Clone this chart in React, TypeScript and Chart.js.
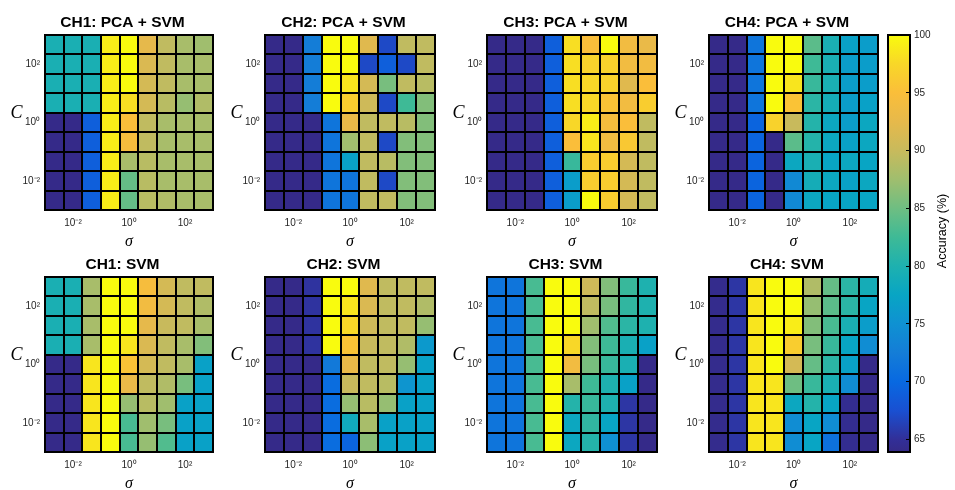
import React, { useEffect, useRef } from 'react';
import { Chart, registerables } from 'chart.js';

Chart.register(...registerables);
Chart.defaults.font.family = '"Liberation Sans", Arial, Helvetica, sans-serif';
Chart.defaults.color = '#262626';

// ---------------- data ----------------
const sigmaColumns = ['s1', 's2', 's3', 's4', 's5', 's6', 's7', 's8', 's9'];
const xTickText = ['', '10⁻²', '', '', '10⁰', '', '', '10²', ''];
const yTickValues = [1.5, 4.5, 7.5];
const yTickText = ['10⁻²', '10⁰', '10²'];
const rowBoundaries = [0, 1, 2, 3, 4, 5, 6, 7, 8, 9];
const colorbarTicks = [65, 70, 75, 80, 85, 90, 95, 100];
const ACC_MIN = 63.9;
const ACC_MAX = 100;

const titles = [
  'CH1: PCA + SVM', 'CH2: PCA + SVM', 'CH3: PCA + SVM', 'CH4: PCA + SVM',
  'CH1: SVM', 'CH2: SVM', 'CH3: SVM', 'CH4: SVM',
];

// rows listed from top (largest C) to bottom (smallest C)
const ch1PcaSvm = [
  [79.5, 79.5, 79.5, 99, 100, 92.5, 89.5, 88, 87.5],
  [79.5, 79.5, 79.5, 99, 100, 91.5, 89.5, 88, 88],
  [79.5, 79.5, 79.5, 99, 100, 91, 89.5, 88, 88],
  [79.5, 79.5, 79.5, 99, 98, 91, 89, 87, 88.5],
  [64, 64, 69, 99, 95, 89.5, 88, 88, 88],
  [64, 64, 69, 99, 94.5, 89.5, 88, 88, 88],
  [64, 64, 69, 99, 88, 89, 88, 88, 88],
  [64, 64, 69, 99, 84.5, 89, 88, 88, 88],
  [64, 64, 69, 99, 84.5, 89, 88.5, 88, 88],
];
const ch2PcaSvm = [
  [64, 64, 72.5, 100, 100, 92, 67, 89.5, 89.5],
  [64, 64, 72.5, 100, 100, 67, 69, 67, 89.5],
  [64, 64, 72.5, 100, 98.5, 91, 85.5, 89.5, 89],
  [64, 64, 72.5, 100, 96.5, 90.5, 67, 82.5, 86],
  [64, 64, 64, 71.5, 93, 89.5, 89.5, 89, 86],
  [64, 64, 64, 71.5, 87.5, 89.5, 67, 86, 86],
  [64, 64, 64, 71.5, 77, 89.5, 89, 86, 86],
  [64, 64, 64, 71.5, 71.5, 89.5, 67, 86, 86],
  [64, 64, 64, 71.5, 71.5, 89.5, 89.5, 86, 86],
];
const ch3PcaSvm = [
  [64, 64, 64, 69, 98, 95, 100, 94, 93],
  [64, 64, 64, 69, 98, 97, 97, 94, 94],
  [64, 64, 64, 69, 98, 97.5, 97, 92, 95],
  [64, 64, 64, 69, 98, 97.5, 95.5, 94, 96.5],
  [64, 64, 64, 69, 97.5, 99, 94.5, 95, 89.5],
  [64, 64, 64, 69, 95, 98.5, 94, 96, 89.5],
  [64, 64, 64, 69, 82, 96.5, 96.5, 91, 89.5],
  [64, 64, 64, 69, 76.5, 96.5, 96.5, 91, 89.5],
  [64, 64, 64, 69, 76.5, 100, 96.5, 91, 89.5],
];
const ch4PcaSvm = [
  [64, 64, 71.5, 100, 100, 84, 79.5, 77, 76.5],
  [64, 64, 71.5, 100, 100, 82.5, 79.5, 76.5, 76.5],
  [64, 64, 71.5, 100, 98.5, 82, 79.5, 76.5, 76.5],
  [64, 64, 71.5, 100, 95.5, 81, 79, 76.5, 77],
  [64, 64, 69.5, 97, 90, 80.5, 78, 76.5, 78],
  [64, 64, 69.5, 64, 84, 80.5, 78, 77, 78],
  [64, 64, 69.5, 64, 78, 79.5, 77.5, 78, 77.5],
  [64, 64, 69.5, 64, 74, 79, 78, 77, 78],
  [64, 64, 69.5, 64, 74, 78, 77.5, 77.5, 77.5],
];
const ch1Svm = [
  [79.5, 79.5, 88, 100, 100, 94.5, 91, 89.5, 89.5],
  [79.5, 79.5, 88, 100, 100, 94, 91, 89.5, 88.5],
  [79.5, 79.5, 88, 100, 100, 92.5, 90, 89.5, 88],
  [79.5, 79.5, 88, 100, 98.5, 91.5, 89.5, 88, 86],
  [64, 64, 98.5, 100, 95.5, 91, 89.5, 88, 77],
  [64, 64, 98.5, 100, 93, 89.5, 88.5, 85.5, 77],
  [64, 64, 98.5, 100, 87, 89, 87.5, 77, 77],
  [64, 64, 98.5, 100, 83, 87.5, 85.5, 77, 77],
  [64, 64, 98.5, 100, 83, 87, 83.5, 77, 77],
];
const ch2Svm = [
  [64, 64, 65.3, 100, 100, 92, 89.5, 89.5, 89.5],
  [64, 64, 65.3, 100, 98.5, 91.5, 89.5, 89.5, 88.5],
  [64, 64, 65.3, 100, 97.5, 90.5, 89.5, 89.5, 87],
  [64, 64, 65.3, 100, 95.5, 90, 89.5, 88.5, 76],
  [64, 64, 64, 72, 93, 89.5, 89.5, 87, 77],
  [64, 64, 64, 70.5, 90, 89.5, 89, 75.5, 77],
  [64, 64, 64, 70.5, 87, 89, 87, 77, 77],
  [64, 64, 64, 70.5, 78.5, 88, 77, 77, 77],
  [64, 64, 64, 70.5, 69.5, 86.5, 77, 77, 77],
];
const ch3Svm = [
  [71.5, 71.5, 83, 100, 100, 90.5, 86, 82, 80],
  [71.5, 71.5, 83, 100, 100, 89.5, 85.5, 81.5, 80],
  [71.5, 71.5, 83, 100, 100, 87.5, 83.5, 81, 80],
  [71.5, 71.5, 83, 100, 97.5, 86, 82.5, 79.5, 77],
  [71.5, 71.5, 83, 100, 94, 85.5, 82, 79.5, 64],
  [71.5, 71.5, 83, 100, 88, 82.5, 80, 77, 64],
  [71.5, 71.5, 83, 100, 80.5, 82, 80, 65.5, 64],
  [71.5, 71.5, 83, 100, 78, 81.5, 77.5, 65.5, 64],
  [71.5, 71.5, 83, 100, 78, 80.5, 75, 65.5, 64],
];
const ch4Svm = [
  [64.3, 65.5, 98.5, 100, 100, 88.5, 84.5, 81, 79],
  [64.3, 65.5, 98.5, 100, 100, 87, 84, 81, 77.5],
  [64.3, 65.5, 98.5, 100, 99, 86, 83, 79.5, 76.5],
  [64.3, 65.5, 98.5, 100, 96.5, 85.5, 82, 77.5, 74.5],
  [64.3, 65.5, 98.5, 100, 91, 84.5, 81, 77, 64],
  [64.3, 65.5, 98.5, 98.5, 85, 82, 79.5, 74.5, 64],
  [64.3, 65.5, 98.5, 98.5, 78, 80.5, 77.5, 64.5, 64],
  [64.3, 65.5, 98.5, 98.5, 74.5, 77.5, 74.5, 64.5, 64],
  [64.3, 65.5, 98.5, 98.5, 74.5, 77.5, 71, 64.5, 64],
];
const panels = [ch1PcaSvm, ch2PcaSvm, ch3PcaSvm, ch4PcaSvm, ch1Svm, ch2Svm, ch3Svm, ch4Svm];

// ---------------- colour map (parula-like) ----------------
const CMAP: [number, number, number, number][] = [
  [0.0, 53, 42, 135],
  [0.03, 50, 47, 152],
  [0.1, 25, 80, 210],
  [0.169, 8, 105, 225],
  [0.238, 20, 125, 215],
  [0.307, 15, 145, 210],
  [0.377, 8, 165, 196],
  [0.446, 30, 177, 175],
  [0.515, 62, 186, 150],
  [0.584, 110, 190, 130],
  [0.654, 160, 190, 110],
  [0.723, 200, 186, 92],
  [0.792, 230, 185, 75],
  [0.861, 250, 190, 58],
  [0.931, 248, 215, 40],
  [1.0, 249, 251, 14],
];
function cmapAt(t: number): string {
  const tt = Math.max(0, Math.min(1, t));
  for (let i = 1; i < CMAP.length; i++) {
    if (tt <= CMAP[i][0]) {
      const a = CMAP[i - 1], b = CMAP[i];
      const f = (tt - a[0]) / (b[0] - a[0]);
      const c = [1, 2, 3].map((k) => Math.round(a[k] + (b[k] - a[k]) * f));
      return `rgb(${c[0]},${c[1]},${c[2]})`;
    }
  }
  const l = CMAP[CMAP.length - 1];
  return `rgb(${l[1]},${l[2]},${l[3]})`;
}
const accColor = (v: number) => cmapAt((v - ACC_MIN) / (ACC_MAX - ACC_MIN));

// ---------------- layout ----------------
const PLOT_LEFTS = [45, 265, 487, 709];
const PLOT_WIDTHS = [168, 170, 170, 169];
const PLOT_TOPS = [35, 277];
const PLOT_H = 175;
const Y_AXIS_W = 45;
const RIGHT_SPACE = 32;
const TITLE_H = 35;
const X_AXIS_H = 41;
const TICK_FONT = 10;

const framePlugin = {
  id: 'frame',
  afterDatasetsDraw(chart: any) {
    const { ctx, chartArea: a } = chart;
    ctx.save();
    ctx.strokeStyle = '#000';
    ctx.lineWidth = 2;
    ctx.strokeRect(a.left, a.top, a.right - a.left, a.bottom - a.top);
    ctx.restore();
  },
};

const cLabelPlugin = {
  id: 'cLabel',
  afterDraw(chart: any) {
    const { ctx, chartArea: a } = chart;
    ctx.save();
    ctx.font = 'italic 18px "Liberation Serif", "Times New Roman", serif';
    ctx.fillStyle = '#000';
    ctx.textAlign = 'center';
    ctx.textBaseline = 'middle';
    ctx.fillText('C', a.left - 28.5, (a.top + a.bottom) / 2 - 9.5);
    ctx.restore();
  },
};

function Heatmap({ title, values, left, top, width }: { title: string; values: number[][]; left: number; top: number; width: number }) {
  const ref = useRef<HTMLCanvasElement>(null);
  const W = Y_AXIS_W + width + RIGHT_SPACE;
  const H = TITLE_H + PLOT_H + X_AXIS_H;
  useEffect(() => {
    const nRows = values.length;
    const datasets = values.map((row, i) => ({
      data: row.map(() => [nRows - 1 - i, nRows - i]),
      backgroundColor: row.map((v) => accColor(v)),
      borderWidth: 0,
      borderSkipped: false,
      inflateAmount: 0.4,
      barPercentage: 1,
      categoryPercentage: 1,
      grouped: false,
      yAxisID: 'y',
    }));
    const chart = new Chart(ref.current as HTMLCanvasElement, {
      type: 'bar',
      data: { labels: sigmaColumns, datasets: datasets as any },
      options: {
        responsive: false,
        maintainAspectRatio: false,
        animation: false,
        devicePixelRatio: 1,
        events: [],
        layout: { padding: 0 },
        plugins: {
          legend: { display: false },
          tooltip: { enabled: false },
          title: {
            display: true,
            text: title,
            color: '#000',
            fullSize: true,
            font: { size: 15.5, weight: 'bold', lineHeight: 1.2 },
            padding: { top: 13.4, bottom: 3 },
          },
        },
        scales: {
          x: {
            type: 'category',
            offset: true,
            grid: { display: true, offset: true, z: 1, color: '#000', lineWidth: 2, drawTicks: false, drawOnChartArea: true },
            border: { display: false },
            ticks: {
              autoSkip: false,
              maxRotation: 0,
              minRotation: 0,
              padding: 7.3,
              color: '#262626',
              font: { size: TICK_FONT },
              callback: (_v: any, i: number) => xTickText[i],
            },
            title: {
              display: true,
              text: 'σ',
              color: '#000',
              font: { family: '"Liberation Serif", "Times New Roman", serif', style: 'italic', size: 16 },
              padding: { top: 0, bottom: 0 },
            },
            afterFit: (s: any) => { s.height = X_AXIS_H; },
          },
          y: {
            type: 'linear',
            position: 'left',
            min: 0,
            max: nRows,
            grid: { display: false, drawTicks: false },
            border: { display: false },
            afterBuildTicks: (s: any) => { s.ticks = yTickValues.map((v) => ({ value: v })); },
            ticks: {
              padding: 5,
              color: '#262626',
              font: { size: TICK_FONT },
              callback: (_v: any, i: number) => yTickText[i],
            },
            afterFit: (s: any) => { s.width = Y_AXIS_W; },
          },
          yg: {
            type: 'linear',
            position: 'left',
            min: 0,
            max: nRows,
            display: true,
            grid: { display: true, z: 1, color: '#000', lineWidth: 2, drawTicks: false, drawOnChartArea: true },
            border: { display: false },
            ticks: { display: false },
            afterBuildTicks: (s: any) => { s.ticks = rowBoundaries.map((v) => ({ value: v })); },
            afterFit: (s: any) => { s.width = 0; },
          },
          yR: {
            type: 'linear',
            position: 'right',
            display: true,
            grid: { display: false, drawTicks: false },
            border: { display: false },
            ticks: { display: false },
            afterFit: (s: any) => { s.width = RIGHT_SPACE; },
          },
        },
      } as any,
      plugins: [framePlugin, cLabelPlugin],
    });
    return () => chart.destroy();
  }, [title, values, width]);
  return (
    <canvas
      ref={ref}
      width={W}
      height={H}
      style={{ position: 'absolute', left: left - Y_AXIS_W, top: top - TITLE_H, width: W, height: H }}
    />
  );
}

const colorbarLabelPlugin = {
  id: 'cbLabel',
  afterDraw(chart: any) {
    const { ctx } = chart;
    ctx.save();
    ctx.translate(942.5 - 880, 231);
    ctx.rotate(-Math.PI / 2);
    ctx.font = '12.5px "Liberation Sans", Arial, sans-serif';
    ctx.fillStyle = '#000';
    ctx.textAlign = 'center';
    ctx.textBaseline = 'middle';
    ctx.fillText('Accuracy (%)', 0, 0);
    ctx.restore();
  },
};

function Colorbar() {
  const ref = useRef<HTMLCanvasElement>(null);
  useEffect(() => {
    const chart = new Chart(ref.current as HTMLCanvasElement, {
      type: 'bar',
      data: {
        labels: ['accuracy'],
        datasets: [
          {
            data: [[ACC_MIN, ACC_MAX]],
            backgroundColor: (c: any) => {
              const area = c.chart.chartArea;
              if (!area) return accColor(80);
              const g = c.chart.ctx.createLinearGradient(0, area.bottom, 0, area.top);
              CMAP.forEach((s) => g.addColorStop(s[0], `rgb(${s[1]},${s[2]},${s[3]})`));
              return g;
            },
            borderColor: '#000',
            borderWidth: 1,
            borderSkipped: false,
            inflateAmount: 0,
            barPercentage: 1,
            categoryPercentage: 1,
          } as any,
        ],
      },
      options: {
        responsive: false,
        maintainAspectRatio: false,
        animation: false,
        devicePixelRatio: 1,
        events: [],
        layout: { padding: { left: 8, right: 0, top: 35, bottom: 38 } },
        plugins: { legend: { display: false }, tooltip: { enabled: false }, title: { display: false } },
        scales: {
          x: { display: false },
          y: {
            type: 'linear',
            position: 'right',
            min: ACC_MIN,
            max: ACC_MAX,
            grid: { display: true, z: 1, drawOnChartArea: false, drawTicks: true, tickLength: -4, color: '#000', lineWidth: 1 },
            border: { display: false },
            afterBuildTicks: (s: any) => { s.ticks = colorbarTicks.map((v) => ({ value: v })); },
            ticks: { padding: 8, color: '#262626', font: { size: TICK_FONT } },
            afterFit: (s: any) => { s.width = 45; },
          },
        },
      } as any,
      plugins: [framePlugin, colorbarLabelPlugin],
    });
    return () => chart.destroy();
  }, []);
  return <canvas ref={ref} width={75} height={490} style={{ position: 'absolute', left: 880, top: 0, width: 75, height: 490 }} />;
}

export default function App() {
  return (
    <div style={{ position: 'fixed', left: 0, top: 0, width: 955, height: 490, overflow: 'hidden', background: '#fff' }}>
      {panels.map((vals, k) => (
        <Heatmap
          key={k}
          title={titles[k]}
          values={vals}
          left={PLOT_LEFTS[k % 4]}
          top={PLOT_TOPS[Math.floor(k / 4)]}
          width={PLOT_WIDTHS[k % 4]}
        />
      ))}
      <Colorbar />
    </div>
  );
}
